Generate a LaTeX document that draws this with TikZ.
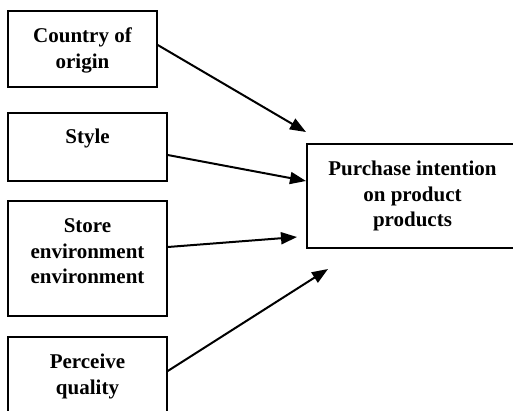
\documentclass[tikz,border=0pt]{standalone}
\usepackage{fontspec}
\setmainfont{Liberation Serif}
\usetikzlibrary{arrows.meta,calc}
\begin{document}
\begin{tikzpicture}[x=1pt,y=-1pt,
  box/.style={draw,line width=1.5pt,rectangle,inner sep=0pt},
  lbl/.style={anchor=north,inner sep=0pt,align=center,font=\fontsize{21}{25.5}\selectfont\bfseries},
  conn/.style={line width=2pt,-{Triangle[length=16pt,width=12pt]}}]
\useasboundingbox (0,0) rectangle (513,410);
\clip (0,0) rectangle (513,410);
\node[box,minimum width=149pt,minimum height=76pt] (b1) at (82.5,49) {};
\node[box,minimum width=159pt,minimum height=68pt] (b2) at (87.5,147) {};
\node[box,minimum width=159pt,minimum height=115pt] (b3) at (87.5,258.5) {};
\node[box,minimum width=159pt,minimum height=77pt] (b4) at (87.5,375.5) {};
\node[box,minimum width=211pt,minimum height=104pt] (b5) at (412.5,196) {};
\node[lbl] (t1) at (82.5,27.8) {Country of\\origin};
\node[lbl] (t2) at (87.5,128.8) {Style};
\node[lbl] (t3) at (87.5,218.8) {Store\\environment\\environment};
\node[lbl] (t4) at (87.5,353.8) {Perceive\\quality};
\node[lbl] (t5) at (412.5,160.8) {Purchase intention\\on product\\products};
\coordinate (e1) at (306,132);
\coordinate (e2) at (306,181);
\coordinate (e3) at (297,237);
\coordinate (e4) at (328,269);
\draw[conn] ($(b1.east)+(0,-4)$) -- (e1);
\draw[conn] ($(b2.east)+(0,8)$) -- (e2);
\draw[conn] ($(b3.east)+(0,-11.5)$) -- (e3);
\draw[conn] ($(b4.east)+(0,-4.5)$) -- (e4);
\end{tikzpicture}
\end{document}
